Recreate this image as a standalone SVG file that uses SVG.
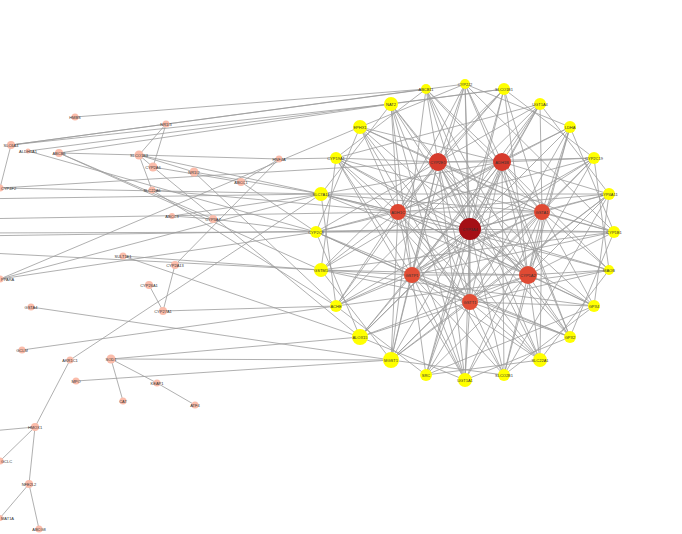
<svg xmlns="http://www.w3.org/2000/svg" width="682" height="534" viewBox="0 0 682 534">
<style>
.e{stroke:#9c9c9c;stroke-width:0.8;fill:none}
.y{fill:#ffff00}
.p{fill:#fbbcaa}
text{font-family:"Liberation Sans",Arial,sans-serif;font-size:4px;fill:#333;text-anchor:middle}
text.s{text-anchor:start}
</style>
<rect width="682" height="534" fill="#fff"/>
<g id="edges">
<line class="e" x1="438" y1="162" x2="502" y2="162"/><line class="e" x1="438" y1="162" x2="398" y2="212"/><line class="e" x1="438" y1="162" x2="470" y2="229"/><line class="e" x1="438" y1="162" x2="542" y2="212"/><line class="e" x1="438" y1="162" x2="412" y2="275"/><line class="e" x1="438" y1="162" x2="528" y2="275"/><line class="e" x1="438" y1="162" x2="470" y2="302"/>
<line class="e" x1="502" y1="162" x2="398" y2="212"/><line class="e" x1="502" y1="162" x2="470" y2="229"/><line class="e" x1="502" y1="162" x2="542" y2="212"/><line class="e" x1="502" y1="162" x2="412" y2="275"/><line class="e" x1="502" y1="162" x2="528" y2="275"/><line class="e" x1="502" y1="162" x2="470" y2="302"/>
<line class="e" x1="398" y1="212" x2="470" y2="229"/><line class="e" x1="398" y1="212" x2="542" y2="212"/><line class="e" x1="398" y1="212" x2="412" y2="275"/><line class="e" x1="398" y1="212" x2="528" y2="275"/><line class="e" x1="398" y1="212" x2="470" y2="302"/>
<line class="e" x1="470" y1="229" x2="542" y2="212"/><line class="e" x1="470" y1="229" x2="412" y2="275"/><line class="e" x1="470" y1="229" x2="528" y2="275"/><line class="e" x1="470" y1="229" x2="470" y2="302"/>
<line class="e" x1="542" y1="212" x2="412" y2="275"/><line class="e" x1="542" y1="212" x2="528" y2="275"/><line class="e" x1="542" y1="212" x2="470" y2="302"/>
<line class="e" x1="412" y1="275" x2="528" y2="275"/><line class="e" x1="412" y1="275" x2="470" y2="302"/><line class="e" x1="528" y1="275" x2="470" y2="302"/>
<line class="e" x1="438" y1="162" x2="465" y2="84"/><line class="e" x1="438" y1="162" x2="504" y2="89"/><line class="e" x1="438" y1="162" x2="540" y2="104"/><line class="e" x1="438" y1="162" x2="594" y2="158"/><line class="e" x1="438" y1="162" x2="614" y2="232"/><line class="e" x1="438" y1="162" x2="594" y2="306"/><line class="e" x1="438" y1="162" x2="540" y2="360"/><line class="e" x1="438" y1="162" x2="465" y2="380"/><line class="e" x1="438" y1="162" x2="391" y2="360"/><line class="e" x1="438" y1="162" x2="336" y2="306"/><line class="e" x1="438" y1="162" x2="316" y2="232"/><line class="e" x1="438" y1="162" x2="336" y2="158"/><line class="e" x1="438" y1="162" x2="360" y2="127"/><line class="e" x1="438" y1="162" x2="391" y2="104"/><line class="e" x1="438" y1="162" x2="426" y2="89"/>
<line class="e" x1="502" y1="162" x2="465" y2="84"/><line class="e" x1="502" y1="162" x2="540" y2="104"/><line class="e" x1="502" y1="162" x2="570" y2="127"/><line class="e" x1="502" y1="162" x2="594" y2="158"/><line class="e" x1="502" y1="162" x2="609" y2="194"/><line class="e" x1="502" y1="162" x2="609" y2="270"/><line class="e" x1="502" y1="162" x2="570" y2="337"/><line class="e" x1="502" y1="162" x2="504" y2="375"/><line class="e" x1="502" y1="162" x2="426" y2="375"/><line class="e" x1="502" y1="162" x2="360" y2="337"/><line class="e" x1="502" y1="162" x2="321" y2="270"/><line class="e" x1="502" y1="162" x2="321" y2="194"/><line class="e" x1="502" y1="162" x2="360" y2="127"/><line class="e" x1="502" y1="162" x2="426" y2="89"/>
<line class="e" x1="398" y1="212" x2="465" y2="84"/><line class="e" x1="398" y1="212" x2="504" y2="89"/><line class="e" x1="398" y1="212" x2="570" y2="127"/><line class="e" x1="398" y1="212" x2="609" y2="194"/><line class="e" x1="398" y1="212" x2="594" y2="306"/><line class="e" x1="398" y1="212" x2="540" y2="360"/><line class="e" x1="398" y1="212" x2="465" y2="380"/><line class="e" x1="398" y1="212" x2="391" y2="360"/><line class="e" x1="398" y1="212" x2="336" y2="306"/><line class="e" x1="398" y1="212" x2="321" y2="270"/><line class="e" x1="398" y1="212" x2="316" y2="232"/><line class="e" x1="398" y1="212" x2="321" y2="194"/><line class="e" x1="398" y1="212" x2="336" y2="158"/><line class="e" x1="398" y1="212" x2="360" y2="127"/><line class="e" x1="398" y1="212" x2="391" y2="104"/>
<line class="e" x1="470" y1="229" x2="465" y2="84"/><line class="e" x1="470" y1="229" x2="504" y2="89"/><line class="e" x1="470" y1="229" x2="540" y2="104"/><line class="e" x1="470" y1="229" x2="594" y2="158"/><line class="e" x1="470" y1="229" x2="609" y2="194"/><line class="e" x1="470" y1="229" x2="614" y2="232"/><line class="e" x1="470" y1="229" x2="609" y2="270"/><line class="e" x1="470" y1="229" x2="570" y2="337"/><line class="e" x1="470" y1="229" x2="504" y2="375"/><line class="e" x1="470" y1="229" x2="465" y2="380"/><line class="e" x1="470" y1="229" x2="426" y2="375"/><line class="e" x1="470" y1="229" x2="360" y2="337"/><line class="e" x1="470" y1="229" x2="336" y2="306"/><line class="e" x1="470" y1="229" x2="316" y2="232"/><line class="e" x1="470" y1="229" x2="321" y2="194"/><line class="e" x1="470" y1="229" x2="336" y2="158"/><line class="e" x1="470" y1="229" x2="391" y2="104"/><line class="e" x1="470" y1="229" x2="426" y2="89"/>
<line class="e" x1="542" y1="212" x2="504" y2="89"/><line class="e" x1="542" y1="212" x2="540" y2="104"/><line class="e" x1="542" y1="212" x2="570" y2="127"/><line class="e" x1="542" y1="212" x2="594" y2="158"/><line class="e" x1="542" y1="212" x2="609" y2="194"/><line class="e" x1="542" y1="212" x2="614" y2="232"/><line class="e" x1="542" y1="212" x2="609" y2="270"/><line class="e" x1="542" y1="212" x2="594" y2="306"/><line class="e" x1="542" y1="212" x2="540" y2="360"/><line class="e" x1="542" y1="212" x2="465" y2="380"/><line class="e" x1="542" y1="212" x2="391" y2="360"/><line class="e" x1="542" y1="212" x2="336" y2="306"/><line class="e" x1="542" y1="212" x2="321" y2="194"/><line class="e" x1="542" y1="212" x2="360" y2="127"/><line class="e" x1="542" y1="212" x2="426" y2="89"/>
<line class="e" x1="412" y1="275" x2="465" y2="84"/><line class="e" x1="412" y1="275" x2="540" y2="104"/><line class="e" x1="412" y1="275" x2="594" y2="158"/><line class="e" x1="412" y1="275" x2="614" y2="232"/><line class="e" x1="412" y1="275" x2="570" y2="337"/><line class="e" x1="412" y1="275" x2="540" y2="360"/><line class="e" x1="412" y1="275" x2="504" y2="375"/><line class="e" x1="412" y1="275" x2="465" y2="380"/><line class="e" x1="412" y1="275" x2="426" y2="375"/><line class="e" x1="412" y1="275" x2="391" y2="360"/><line class="e" x1="412" y1="275" x2="360" y2="337"/><line class="e" x1="412" y1="275" x2="336" y2="306"/><line class="e" x1="412" y1="275" x2="321" y2="270"/><line class="e" x1="412" y1="275" x2="316" y2="232"/><line class="e" x1="412" y1="275" x2="336" y2="158"/><line class="e" x1="412" y1="275" x2="391" y2="104"/>
<line class="e" x1="528" y1="275" x2="504" y2="89"/><line class="e" x1="528" y1="275" x2="570" y2="127"/><line class="e" x1="528" y1="275" x2="609" y2="194"/><line class="e" x1="528" y1="275" x2="614" y2="232"/><line class="e" x1="528" y1="275" x2="609" y2="270"/><line class="e" x1="528" y1="275" x2="594" y2="306"/><line class="e" x1="528" y1="275" x2="570" y2="337"/><line class="e" x1="528" y1="275" x2="540" y2="360"/><line class="e" x1="528" y1="275" x2="504" y2="375"/><line class="e" x1="528" y1="275" x2="426" y2="375"/><line class="e" x1="528" y1="275" x2="360" y2="337"/><line class="e" x1="528" y1="275" x2="321" y2="270"/><line class="e" x1="528" y1="275" x2="321" y2="194"/><line class="e" x1="528" y1="275" x2="360" y2="127"/><line class="e" x1="528" y1="275" x2="426" y2="89"/>
<line class="e" x1="470" y1="302" x2="465" y2="84"/><line class="e" x1="470" y1="302" x2="570" y2="127"/><line class="e" x1="470" y1="302" x2="609" y2="194"/><line class="e" x1="470" y1="302" x2="609" y2="270"/><line class="e" x1="470" y1="302" x2="594" y2="306"/><line class="e" x1="470" y1="302" x2="570" y2="337"/><line class="e" x1="470" y1="302" x2="540" y2="360"/><line class="e" x1="470" y1="302" x2="504" y2="375"/><line class="e" x1="470" y1="302" x2="465" y2="380"/><line class="e" x1="470" y1="302" x2="426" y2="375"/><line class="e" x1="470" y1="302" x2="391" y2="360"/><line class="e" x1="470" y1="302" x2="360" y2="337"/><line class="e" x1="470" y1="302" x2="321" y2="270"/><line class="e" x1="470" y1="302" x2="316" y2="232"/><line class="e" x1="470" y1="302" x2="336" y2="158"/><line class="e" x1="470" y1="302" x2="391" y2="104"/>
<line class="e" x1="465" y1="84" x2="570" y2="127"/><line class="e" x1="465" y1="84" x2="614" y2="232"/><line class="e" x1="465" y1="84" x2="570" y2="337"/><line class="e" x1="465" y1="84" x2="360" y2="127"/>
<line class="e" x1="504" y1="89" x2="594" y2="158"/><line class="e" x1="504" y1="89" x2="321" y2="270"/><line class="e" x1="504" y1="89" x2="391" y2="104"/><line class="e" x1="504" y1="89" x2="426" y2="375"/>
<line class="e" x1="540" y1="104" x2="609" y2="194"/><line class="e" x1="540" y1="104" x2="391" y2="360"/><line class="e" x1="540" y1="104" x2="336" y2="158"/><line class="e" x1="540" y1="104" x2="336" y2="306"/>
<line class="e" x1="570" y1="127" x2="614" y2="232"/><line class="e" x1="570" y1="127" x2="360" y2="337"/><line class="e" x1="570" y1="127" x2="504" y2="375"/>
<line class="e" x1="594" y1="158" x2="609" y2="270"/><line class="e" x1="594" y1="158" x2="316" y2="232"/><line class="e" x1="594" y1="158" x2="465" y2="380"/><line class="e" x1="594" y1="158" x2="391" y2="360"/>
<line class="e" x1="609" y1="194" x2="594" y2="306"/><line class="e" x1="609" y1="194" x2="321" y2="194"/><line class="e" x1="609" y1="194" x2="504" y2="375"/><line class="e" x1="609" y1="194" x2="391" y2="360"/>
<line class="e" x1="614" y1="232" x2="570" y2="337"/><line class="e" x1="614" y1="232" x2="321" y2="270"/><line class="e" x1="614" y1="232" x2="336" y2="158"/><line class="e" x1="614" y1="232" x2="316" y2="232"/>
<line class="e" x1="609" y1="270" x2="540" y2="360"/><line class="e" x1="609" y1="270" x2="336" y2="306"/><line class="e" x1="609" y1="270" x2="321" y2="194"/>
<line class="e" x1="594" y1="306" x2="504" y2="375"/><line class="e" x1="594" y1="306" x2="426" y2="375"/><line class="e" x1="594" y1="306" x2="336" y2="158"/><line class="e" x1="594" y1="306" x2="321" y2="270"/>
<line class="e" x1="570" y1="337" x2="465" y2="380"/><line class="e" x1="570" y1="337" x2="316" y2="232"/><line class="e" x1="570" y1="337" x2="391" y2="104"/>
<line class="e" x1="540" y1="360" x2="426" y2="375"/><line class="e" x1="540" y1="360" x2="426" y2="89"/><line class="e" x1="540" y1="360" x2="360" y2="127"/>
<line class="e" x1="504" y1="375" x2="391" y2="360"/><line class="e" x1="504" y1="375" x2="360" y2="127"/>
<line class="e" x1="465" y1="380" x2="360" y2="337"/><line class="e" x1="465" y1="380" x2="391" y2="104"/><line class="e" x1="465" y1="380" x2="336" y2="158"/>
<line class="e" x1="426" y1="375" x2="336" y2="306"/><line class="e" x1="391" y1="360" x2="321" y2="270"/><line class="e" x1="391" y1="360" x2="426" y2="89"/>
<line class="e" x1="360" y1="337" x2="316" y2="232"/><line class="e" x1="336" y1="306" x2="321" y2="194"/><line class="e" x1="321" y1="270" x2="336" y2="158"/><line class="e" x1="316" y1="232" x2="360" y2="127"/><line class="e" x1="321" y1="194" x2="391" y2="104"/><line class="e" x1="336" y1="158" x2="426" y2="89"/>
<line class="e" x1="75" y1="117" x2="426" y2="89"/>
<line class="e" x1="11" y1="145" x2="426" y2="89"/><line class="e" x1="11" y1="145" x2="391" y2="104"/><line class="e" x1="11" y1="145" x2="465" y2="84"/><line class="e" x1="11" y1="145" x2="0" y2="188"/>
<line class="e" x1="59" y1="153" x2="139" y2="155"/><line class="e" x1="59" y1="153" x2="391" y2="104"/><line class="e" x1="59" y1="153" x2="213" y2="219"/><line class="e" x1="59" y1="153" x2="321" y2="270"/>
<line class="e" x1="28" y1="151" x2="504" y2="89"/><line class="e" x1="28" y1="151" x2="316" y2="232"/>
<line class="e" x1="166" y1="124" x2="139" y2="155"/><line class="e" x1="166" y1="124" x2="153" y2="167"/>
<line class="e" x1="139" y1="155" x2="279" y2="159"/><line class="e" x1="139" y1="155" x2="153" y2="167"/><line class="e" x1="139" y1="155" x2="152" y2="190"/><line class="e" x1="139" y1="155" x2="194" y2="172"/><line class="e" x1="139" y1="155" x2="321" y2="194"/>
<line class="e" x1="279" y1="159" x2="336" y2="158"/><line class="e" x1="279" y1="159" x2="241" y2="182"/>
<line class="e" x1="153" y1="167" x2="360" y2="337"/><line class="e" x1="153" y1="167" x2="241" y2="182"/>
<line class="e" x1="194" y1="172" x2="336" y2="306"/><line class="e" x1="194" y1="172" x2="321" y2="194"/>
<line class="e" x1="241" y1="182" x2="316" y2="232"/>
<line class="e" x1="152" y1="190" x2="336" y2="306"/><line class="e" x1="152" y1="190" x2="398" y2="212"/>
<line class="e" x1="172" y1="216" x2="213" y2="219"/><line class="e" x1="172" y1="216" x2="321" y2="194"/>
<line class="e" x1="213" y1="219" x2="316" y2="232"/>
<line class="e" x1="0" y1="188" x2="321" y2="194"/><line class="e" x1="0" y1="188" x2="438" y2="162"/>
<line class="e" x1="-30" y1="199" x2="321" y2="194"/><line class="e" x1="-30" y1="219" x2="398" y2="212"/><line class="e" x1="-30" y1="233" x2="316" y2="232"/><line class="e" x1="-30" y1="236" x2="470" y2="229"/><line class="e" x1="-30" y1="252" x2="321" y2="270"/>
<line class="e" x1="0" y1="279" x2="360" y2="127"/><line class="e" x1="0" y1="279" x2="321" y2="194"/><line class="e" x1="0" y1="279" x2="316" y2="232"/>
<line class="e" x1="123" y1="256" x2="321" y2="270"/><line class="e" x1="123" y1="256" x2="360" y2="337"/>
<line class="e" x1="175" y1="265" x2="279" y2="159"/><line class="e" x1="175" y1="265" x2="163" y2="311"/>
<line class="e" x1="149" y1="285" x2="163" y2="311"/>
<line class="e" x1="163" y1="311" x2="336" y2="306"/>
<line class="e" x1="31" y1="307" x2="391" y2="360"/>
<line class="e" x1="22" y1="350" x2="336" y2="306"/>
<line class="e" x1="70" y1="360" x2="321" y2="194"/><line class="e" x1="70" y1="360" x2="35" y2="427"/>
<line class="e" x1="111" y1="359" x2="360" y2="337"/><line class="e" x1="111" y1="359" x2="391" y2="360"/><line class="e" x1="111" y1="359" x2="123" y2="401"/><line class="e" x1="111" y1="359" x2="157" y2="383"/>
<line class="e" x1="157" y1="383" x2="195" y2="405"/>
<line class="e" x1="76" y1="381" x2="391" y2="360"/>
<line class="e" x1="35" y1="427" x2="-20" y2="432"/><line class="e" x1="35" y1="427" x2="0" y2="461"/><line class="e" x1="35" y1="427" x2="29" y2="484"/>
<line class="e" x1="29" y1="484" x2="0" y2="518"/><line class="e" x1="29" y1="484" x2="39" y2="529"/>
</g>
<g id="ring">
<g id="n_CYP2J2"><circle class="y" cx="465" cy="84" r="5"/><text x="465" y="85.5">CYP2J2</text></g>
<g id="n_SLCO1B1"><circle class="y" cx="504" cy="89" r="6"/><text x="504" y="90.5">SLCO1B1</text></g>
<g id="n_UGT1A4"><circle class="y" cx="540" cy="104" r="6"/><text x="540" y="105.5">UGT1A4</text></g>
<g id="n_LDHA"><circle class="y" cx="570" cy="127" r="6"/><text x="570" y="128.5">LDHA</text></g>
<g id="n_CYP2C19"><circle class="y" cx="594" cy="158" r="6"/><text x="594" y="159.5">CYP2C19</text></g>
<g id="n_CYP4A11"><circle class="y" cx="609" cy="194" r="6"/><text x="609" y="195.5">CYP4A11</text></g>
<g id="n_CYP1B1"><circle class="y" cx="614" cy="232" r="6"/><text x="614" y="233.5">CYP1B1</text></g>
<g id="n_MAOB"><circle class="y" cx="609" cy="270" r="5"/><text x="609" y="271.5">MAOB</text></g>
<g id="n_GPX4"><circle class="y" cx="594" cy="306" r="6"/><text x="594" y="307.5">GPX4</text></g>
<g id="n_GPX2"><circle class="y" cx="570" cy="337" r="6"/><text x="570" y="338.5">GPX2</text></g>
<g id="n_SLC22A1"><circle class="y" cx="540" cy="360" r="7"/><text x="540" y="361.5">SLC22A1</text></g>
<g id="n_SLCO2B1"><circle class="y" cx="504" cy="375" r="6"/><text x="504" y="376.5">SLCO2B1</text></g>
<g id="n_UGT1A1"><circle class="y" cx="465" cy="380" r="7"/><text x="465" y="381.5">UGT1A1</text></g>
<g id="n_SRC"><circle class="y" cx="426" cy="375" r="6"/><text x="426" y="376.5">SRC</text></g>
<g id="n_MGST1"><circle class="y" cx="391" cy="360" r="8"/><text x="391" y="361.5">MGST1</text></g>
<g id="n_ALOX15"><circle class="y" cx="360" cy="337" r="8"/><text x="360" y="338.5">ALOX15</text></g>
<g id="n_ACHE"><circle class="y" cx="336" cy="306" r="6"/><text x="336" y="307.5">ACHE</text></g>
<g id="n_GSTM1"><circle class="y" cx="321" cy="270" r="7"/><text x="321" y="271.5">GSTM1</text></g>
<g id="n_CYP2C8"><circle class="y" cx="316" cy="232" r="6"/><text x="316" y="233.5">CYP2C8</text></g>
<g id="n_SLC7A11"><circle class="y" cx="321" cy="194" r="7"/><text x="321" y="195.5">SLC7A11</text></g>
<g id="n_CYP19A1"><circle class="y" cx="336" cy="158" r="6"/><text x="336" y="159.5">CYP19A1</text></g>
<g id="n_EPHX1"><circle class="y" cx="360" cy="127" r="7"/><text x="360" y="128.5">EPHX1</text></g>
<g id="n_NAT2"><circle class="y" cx="391" cy="104" r="7"/><text x="391" y="105.5">NAT2</text></g>
<g id="n_ABCB11"><circle class="y" cx="426" cy="89" r="5"/><text x="426" y="90.5">ABCB11</text></g>
</g>
<g id="core">
<g id="n_CYP2E1"><circle cx="438" cy="162" r="9" fill="#d63a2c"/><text x="438" y="163.5">CYP2E1</text></g>
<g id="n_ADH1B"><circle cx="502" cy="162" r="9" fill="#d63a2c"/><text x="502" y="163.5">ADH1B</text></g>
<g id="n_ADH1C"><circle cx="398" cy="212" r="8" fill="#de4631"/><text x="398" y="213.5">ADH1C</text></g>
<g id="n_CYP3A4"><circle cx="470" cy="229" r="11" fill="#a50f15"/><text x="470" y="230.5">CYP3A4</text></g>
<g id="n_GSTA1"><circle cx="542" cy="212" r="8" fill="#e04a33"/><text x="542" y="213.5">GSTA1</text></g>
<g id="n_GSTP1"><circle cx="412" cy="275" r="8" fill="#e24e36"/><text x="412" y="276.5">GSTP1</text></g>
<g id="n_CYP1A2"><circle cx="528" cy="275" r="9" fill="#e04a33"/><text x="528" y="276.5">CYP1A2</text></g>
<g id="n_GSTT1"><circle cx="470" cy="302" r="8" fill="#e24e36"/><text x="470" y="303.5">GSTT1</text></g>
</g>
<g id="left">
<g id="n_HMBS"><circle class="p" cx="75" cy="117" r="3.5"/><text x="75" y="118.5">HMBS</text></g>
<g id="n_SLC6A4"><circle class="p" cx="11" cy="145" r="4"/><text x="11" y="146.5">SLC6A4</text></g>
<g id="n_ALDH1A1"><circle class="p" cx="28" cy="151" r="2.5"/><text x="28" y="152.5">ALDH1A1</text></g>
<g id="n_ABCB6"><circle class="p" cx="59" cy="153" r="4"/><text x="59" y="154.5">ABCB6</text></g>
<g id="n_NR1I3"><circle class="p" cx="166" cy="124" r="3.5"/><text x="166" y="125.5">NR1I3</text></g>
<g id="n_SLCO1B3"><circle class="p" cx="139" cy="155" r="4.5"/><text x="139" y="156.5">SLCO1B3</text></g>
<g id="n_CYP2A6"><circle class="p" cx="153" cy="167" r="4.5"/><text x="153" y="168.5">CYP2A6</text></g>
<g id="n_NR1I2"><circle class="p" cx="194" cy="172" r="4.5"/><text x="194" y="173.5">NR1I2</text></g>
<g id="n_ABCC1"><circle class="p" cx="241" cy="182" r="4"/><text x="241" y="183.5">ABCC1</text></g>
<g id="n_HNF4A"><circle class="p" cx="279" cy="159" r="3.5"/><text x="279" y="160.5">HNF4A</text></g>
<g id="n_SLC22A6"><circle class="p" cx="152" cy="190" r="3.5"/><text x="152" y="191.5">SLC22A6</text></g>
<g id="n_CYP4F2"><circle class="p" cx="0" cy="188" r="3.5"/><text class="s" x="1" y="189.5">CYP4F2</text></g>
<g id="n_ABCC3"><circle class="p" cx="172" cy="216" r="3"/><text x="172" y="217.5">ABCC3</text></g>
<g id="n_CYP3A7"><circle class="p" cx="213" cy="219" r="4"/><text x="213" y="220.5">CYP3A7</text></g>
<g id="n_SULT1E1"><circle class="p" cx="123" cy="256" r="3.5"/><text x="123" y="257.5">SULT1E1</text></g>
<g id="n_CYP2A13"><circle class="p" cx="175" cy="265" r="4"/><text x="175" y="266.5">CYP2A13</text></g>
<g id="n_PPARA"><circle class="p" cx="0" cy="279" r="3.5"/><text class="s" x="1" y="280.5">PPARA</text></g>
<g id="n_CYP26A1"><circle class="p" cx="149" cy="285" r="4"/><text x="149" y="286.5">CYP26A1</text></g>
<g id="n_CYP27A1"><circle class="p" cx="163" cy="311" r="4"/><text x="163" y="312.5">CYP27A1</text></g>
<g id="n_GSTA4"><circle class="p" cx="31" cy="307" r="3.5"/><text x="31" y="308.5">GSTA4</text></g>
<g id="n_GCLM"><circle class="p" cx="22" cy="350" r="3.5"/><text x="22" y="351.5">GCLM</text></g>
<g id="n_AKR1C1"><circle class="p" cx="70" cy="360" r="3.5"/><text x="70" y="361.5">AKR1C1</text></g>
<g id="n_SOD1"><circle class="p" cx="111" cy="359" r="4.5"/><text x="111" y="360.5">SOD1</text></g>
<g id="n_MPO"><circle class="p" cx="76" cy="381" r="3.5"/><text x="76" y="382.5">MPO</text></g>
<g id="n_KEAP1"><circle class="p" cx="157" cy="383" r="3.5"/><text x="157" y="384.5">KEAP1</text></g>
<g id="n_CAT"><circle class="p" cx="123" cy="401" r="3.5"/><text x="123" y="402.5">CAT</text></g>
<g id="n_ATF4"><circle class="p" cx="195" cy="405" r="3.5"/><text x="195" y="406.5">ATF4</text></g>
<g id="n_HMOX1"><circle class="p" cx="35" cy="427" r="4"/><text x="35" y="428.5">HMOX1</text></g>
<g id="n_GCLC"><circle class="p" cx="0" cy="461" r="3.5"/><text class="s" x="1" y="462.5">GCLC</text></g>
<g id="n_NFE2L2"><circle class="p" cx="29" cy="484" r="4"/><text x="29" y="485.5">NFE2L2</text></g>
<g id="n_MAT1A"><circle class="p" cx="0" cy="518" r="3"/><text class="s" x="1" y="519.5">MAT1A</text></g>
<g id="n_ABCG8"><circle class="p" cx="39" cy="529" r="3.5"/><text x="39" y="530.5">ABCG8</text></g>
</g>
</svg>
